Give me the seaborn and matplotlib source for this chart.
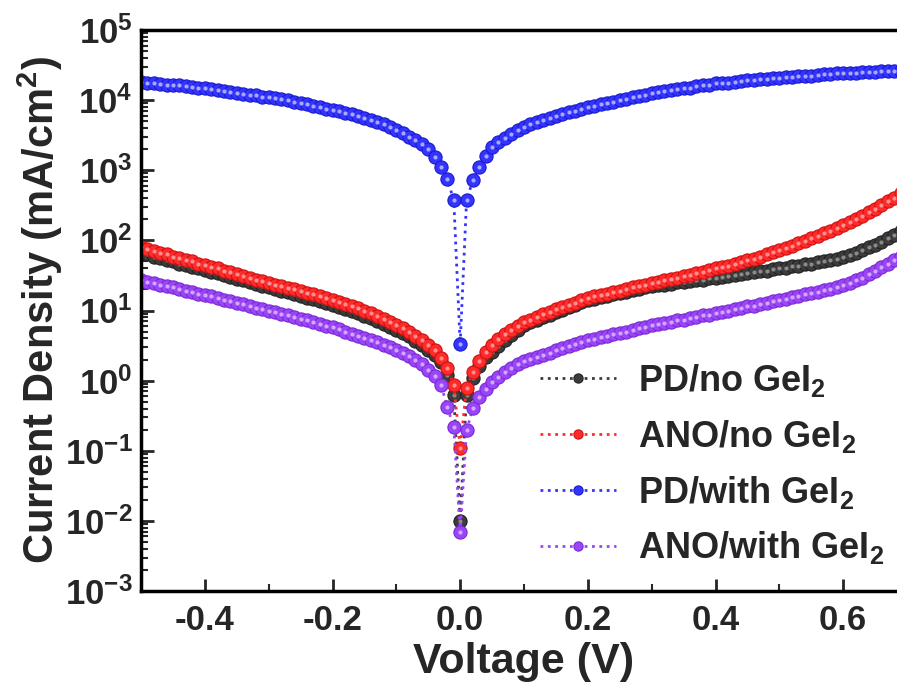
import numpy as np
import pandas as pd
import seaborn as sns
import matplotlib.pyplot as plt
from matplotlib.ticker import MultipleLocator, LogLocator, FixedLocator, FixedFormatter, NullFormatter

# Voltage sweep, 10 mV steps
voltage = np.round(np.arange(-0.50, 0.705, 0.01), 2)

# log10 of current density (mA/cm^2) at every 10 mV
log_pd_no = [
    1.82, 1.80, 1.77, 1.75, 1.72, 1.70, 1.67, 1.65, 1.62, 1.60,
    1.58, 1.55, 1.53, 1.50, 1.48, 1.45, 1.43, 1.40, 1.38, 1.35,
    1.33, 1.30, 1.28, 1.26, 1.23, 1.21, 1.18, 1.16, 1.13, 1.11,
    1.08, 1.05, 1.02, 0.99, 0.96, 0.92, 0.89, 0.85, 0.81, 0.77,
    0.72, 0.68, 0.63, 0.57, 0.51, 0.44, 0.36, 0.26, 0.08, -0.21,
    -2.00,
    -0.20, 0.04, 0.21, 0.33, 0.41, 0.50, 0.58, 0.65, 0.72, 0.79,
    0.83, 0.87, 0.91, 0.94, 0.98, 1.01, 1.05, 1.08, 1.12, 1.15,
    1.17, 1.19, 1.21, 1.23, 1.25, 1.27, 1.29, 1.31, 1.33, 1.35,
    1.36, 1.37, 1.38, 1.40, 1.41, 1.42, 1.43, 1.44, 1.46, 1.47,
    1.48, 1.49, 1.51, 1.52, 1.53, 1.55, 1.56, 1.57, 1.59, 1.60,
    1.61, 1.63, 1.64, 1.66, 1.67, 1.69, 1.70, 1.72, 1.74, 1.76,
    1.79, 1.82, 1.86, 1.90, 1.94, 1.98, 2.03, 2.08, 2.13, 2.18,
]
log_ano_no = [
    1.90, 1.87, 1.85, 1.82, 1.80, 1.77, 1.75, 1.72, 1.70, 1.67,
    1.65, 1.62, 1.60, 1.57, 1.55, 1.52, 1.49, 1.47, 1.44, 1.42,
    1.39, 1.37, 1.35, 1.32, 1.30, 1.28, 1.25, 1.23, 1.20, 1.18,
    1.15, 1.12, 1.09, 1.06, 1.03, 1.00, 0.96, 0.92, 0.88, 0.84,
    0.79, 0.75, 0.70, 0.64, 0.58, 0.51, 0.43, 0.32, 0.18, -0.06,
    -0.96,
    -0.10, 0.12, 0.28, 0.41, 0.51, 0.59, 0.66, 0.72, 0.78, 0.83,
    0.87, 0.91, 0.95, 0.98, 1.02, 1.05, 1.08, 1.11, 1.15, 1.18,
    1.20, 1.22, 1.24, 1.26, 1.28, 1.30, 1.33, 1.35, 1.37, 1.39,
    1.41, 1.43, 1.45, 1.47, 1.49, 1.51, 1.53, 1.55, 1.58, 1.60,
    1.62, 1.64, 1.67, 1.69, 1.72, 1.74, 1.77, 1.80, 1.83, 1.86,
    1.89, 1.92, 1.96, 1.99, 2.03, 2.06, 2.10, 2.14, 2.18, 2.22,
    2.26, 2.31, 2.35, 2.40, 2.45, 2.50, 2.56, 2.61, 2.67, 2.72,
]
log_pd_with = [
    4.26, 4.25, 4.24, 4.23, 4.22, 4.22, 4.21, 4.20, 4.19, 4.18,
    4.17, 4.16, 4.14, 4.13, 4.12, 4.10, 4.09, 4.08, 4.07, 4.05,
    4.04, 4.03, 4.01, 4.00, 3.98, 3.96, 3.94, 3.92, 3.90, 3.88,
    3.86, 3.84, 3.82, 3.80, 3.78, 3.75, 3.72, 3.69, 3.66, 3.62,
    3.57, 3.53, 3.48, 3.43, 3.37, 3.30, 3.19, 3.05, 2.87, 2.57,
    0.52,
    2.57, 2.86, 3.05, 3.21, 3.33, 3.40, 3.46, 3.52, 3.57, 3.62,
    3.66, 3.69, 3.72, 3.75, 3.78, 3.80, 3.83, 3.85, 3.88, 3.90,
    3.92, 3.94, 3.96, 3.98, 4.00, 4.02, 4.04, 4.06, 4.08, 4.10,
    4.11, 4.13, 4.14, 4.16, 4.17, 4.18, 4.20, 4.21, 4.22, 4.24,
    4.25, 4.25, 4.26, 4.27, 4.28, 4.29, 4.30, 4.30, 4.31, 4.32,
    4.33, 4.33, 4.34, 4.35, 4.35, 4.36, 4.37, 4.37, 4.38, 4.39,
    4.39, 4.39, 4.40, 4.40, 4.40, 4.41, 4.41, 4.41, 4.42, 4.42,
]
log_ano_with = [
    1.43, 1.41, 1.39, 1.37, 1.35, 1.33, 1.30, 1.28, 1.26, 1.24,
    1.22, 1.20, 1.18, 1.15, 1.13, 1.11, 1.09, 1.07, 1.04, 1.02,
    1.00, 0.98, 0.95, 0.93, 0.91, 0.88, 0.86, 0.83, 0.81, 0.78,
    0.76, 0.73, 0.70, 0.67, 0.64, 0.61, 0.58, 0.55, 0.51, 0.48,
    0.44, 0.40, 0.35, 0.30, 0.23, 0.15, 0.06, -0.06, -0.38, -0.66,
    -2.16,
    -0.71, -0.39, -0.24, -0.12, -0.02, 0.05, 0.12, 0.18, 0.23, 0.28,
    0.31, 0.34, 0.37, 0.40, 0.43, 0.46, 0.49, 0.52, 0.55, 0.58,
    0.60, 0.62, 0.64, 0.66, 0.68, 0.70, 0.72, 0.75, 0.77, 0.79,
    0.81, 0.82, 0.84, 0.86, 0.87, 0.89, 0.91, 0.93, 0.94, 0.96,
    0.98, 1.00, 1.02, 1.04, 1.06, 1.07, 1.09, 1.11, 1.13, 1.15,
    1.17, 1.19, 1.21, 1.23, 1.25, 1.27, 1.29, 1.31, 1.33, 1.36,
    1.39, 1.43, 1.47, 1.52, 1.57, 1.62, 1.67, 1.72, 1.77, 1.82,
]

labels = [r'PD/no GeI$_\mathbf{2}$', r'ANO/no GeI$_\mathbf{2}$',
          r'PD/with GeI$_\mathbf{2}$', r'ANO/with GeI$_\mathbf{2}$']
series = [log_pd_no, log_ano_no, log_pd_with, log_ano_with]
colors = ['#3c3c3c', '#ff2b2b', '#3434ff', '#9a46f6']
edges = ['#222222', '#d01010', '#1a1ad0', '#7a28d8']
shine = ['#8a8a8a', '#ff9090', '#a8a8ff', '#d2a8ff']

frames = []
for lab, vals in zip(labels, series):
    frames.append(pd.DataFrame({'Voltage': voltage,
                                'J': 10 ** np.array(vals),
                                'Sample': lab}))
df = pd.concat(frames, ignore_index=True)

sns.set_theme(style='ticks')
plt.rcParams['font.family'] = ['Liberation Sans', 'DejaVu Sans']
plt.rcParams['font.weight'] = 'bold'
plt.rcParams['axes.unicode_minus'] = False
plt.rcParams['mathtext.fontset'] = 'custom'
plt.rcParams['mathtext.rm'] = 'Liberation Sans:bold'
plt.rcParams['mathtext.bf'] = 'Liberation Sans:bold'
plt.rcParams['mathtext.default'] = 'bf'

fig = plt.figure(figsize=(8.97, 6.97), dpi=100)
ax = fig.add_axes([141 / 897, 106 / 697, 766 / 897, 561 / 697])

for lab, c, ec, sh in zip(labels, colors, edges, shine):
    sub = df[df['Sample'] == lab]
    sns.lineplot(data=sub, x='Voltage', y='J', ax=ax, color=c, label=lab,
                 marker='o', markersize=9.5, markeredgecolor=ec,
                 markeredgewidth=0.8, linestyle=':', linewidth=2,
                 estimator=None, sort=False)
    # small light spot on each bead, like the shaded spheres of the original
    sns.lineplot(data=sub, x='Voltage', y='J', ax=ax, color=sh, legend=False,
                 marker='o', markersize=3, markeredgewidth=0, linestyle='none',
                 estimator=None, sort=False)

ax.set_yscale('log')
ax.set_xlim(-0.5, 0.7)
ax.set_ylim(1e-3, 1e5)

ax.xaxis.set_minor_locator(MultipleLocator(0.1))
ax.set_xticks([-0.4, -0.2, 0.0, 0.2, 0.4, 0.6])
ax.set_xticklabels(['-0.4', '-0.2', '0.0', '0.2', '0.4', '0.6'])

dec = list(range(-3, 6))
ax.yaxis.set_major_locator(FixedLocator([10.0 ** d for d in dec]))
ax.yaxis.set_major_formatter(FixedFormatter([r'$\mathbf{10^{%d}}$' % d for d in dec]))
ax.yaxis.set_minor_locator(LogLocator(base=10, subs=np.arange(2, 10), numticks=20))
ax.yaxis.set_minor_formatter(NullFormatter())

ax.tick_params(axis='both', which='major', direction='in', length=9, width=2,
               labelsize=25, top=False, right=False)
ax.tick_params(axis='both', which='minor', direction='in', length=5, width=1.5,
               top=False, right=False)
ax.tick_params(axis='x', pad=9)
ax.tick_params(axis='y', pad=6)
for lbl in ax.get_xticklabels() + ax.get_yticklabels():
    lbl.set_fontweight('bold')

for sp in ax.spines.values():
    sp.set_linewidth(2.5)
    sp.set_color('black')

ax.set_xlabel('Voltage (V)', fontsize=31, fontweight='bold', labelpad=4)
ax.set_ylabel(r'Current Density (mA/cm$^\mathbf{2}$)', fontsize=30,
              fontweight='bold', labelpad=0)

handles, names = ax.get_legend_handles_labels()
ax.legend(handles[:4], names[:4], loc='upper left',
          bbox_to_anchor=(0.521, 0.408), frameon=False,
          fontsize=26, handlelength=2.1, handletextpad=0.6, labelspacing=0.52,
          borderpad=0, borderaxespad=0, markerscale=0.7)

fig.savefig('out.png', dpi=100)
